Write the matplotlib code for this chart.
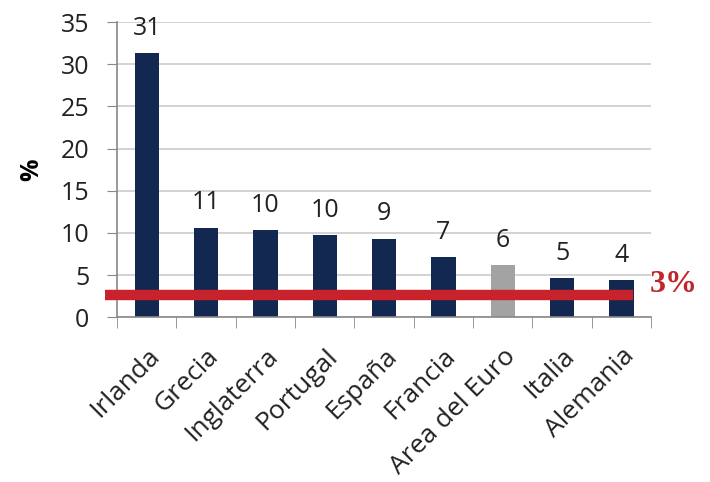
import numpy as np
import matplotlib.pyplot as plt
from matplotlib.transforms import ScaledTranslation

paises = ['Irlanda', 'Grecia', 'Inglaterra', 'Portugal', 'España',
          'Francia', 'Area del Euro', 'Italia', 'Alemania']
valores = [31.3, 10.6, 10.3, 9.7, 9.3, 7.1, 6.15, 4.6, 4.4]
etiquetas = ['31', '11', '10', '10', '9', '7', '6', '5', '4']
limite = 2.6

plt.rcParams['font.family'] = ['Open Sans', 'DejaVu Sans']

fig = plt.figure(figsize=(7.1, 4.82), dpi=100)
ax = fig.add_axes([0.165, 0.342, 0.752, 0.612])

x = np.arange(len(paises))
colores = ['#a3a3a3' if p == 'Area del Euro' else '#132851' for p in paises]
barras = ax.bar(x, valores, width=0.41, color=colores, zorder=2)

for b, t in zip(barras, etiquetas):
    ax.annotate(t, (b.get_x() + b.get_width() / 2, b.get_height()),
                xytext=(0, 9), textcoords='offset points',
                ha='center', va='bottom', fontsize=18, color='#222222')

# linea del 3%
ax.plot([-0.7, 8.2], [limite, limite], color='#c8232c', lw=7.5,
        solid_capstyle='butt', clip_on=False, zorder=3)
ax.text(8.48, limite + 1.3, '3%', color='#c0272d', fontsize=23,
        fontweight='bold', family='Liberation Serif', va='center', ha='left')

ax.set_xlim(-0.5, len(paises) - 0.5)
ax.set_ylim(0, 35)
ax.set_yticks(range(0, 36, 5))
ax.tick_params(axis='y', labelsize=18, length=7, color='#888888',
               labelcolor='#222222', pad=13)
ax.set_xticks(x)
ax.set_xticklabels(paises, rotation=45, ha='right', rotation_mode='anchor',
                   fontsize=19, color='#222222')
# mover un poco las etiquetas a la izquierda
desplaza = ScaledTranslation(-6 / 100, 0, fig.dpi_scale_trans)
for lab in ax.get_xticklabels():
    lab.set_transform(lab.get_transform() + desplaza)
ax.set_xticks(np.arange(-0.5, len(paises), 1), minor=True)
ax.tick_params(axis='x', which='major', length=0, pad=19)
ax.tick_params(axis='x', which='minor', length=8, color='#888888')

ax.yaxis.grid(True, color='#cccccc', lw=1.2, zorder=0)
ax.set_axisbelow(True)
for s in ['top', 'right']:
    ax.spines[s].set_visible(False)
for s in ['left', 'bottom']:
    ax.spines[s].set_color('#888888')
    ax.spines[s].set_linewidth(1.2)

ax.set_ylabel('%', fontsize=18, fontweight='bold', labelpad=12)

fig.savefig('out.png', dpi=100)
